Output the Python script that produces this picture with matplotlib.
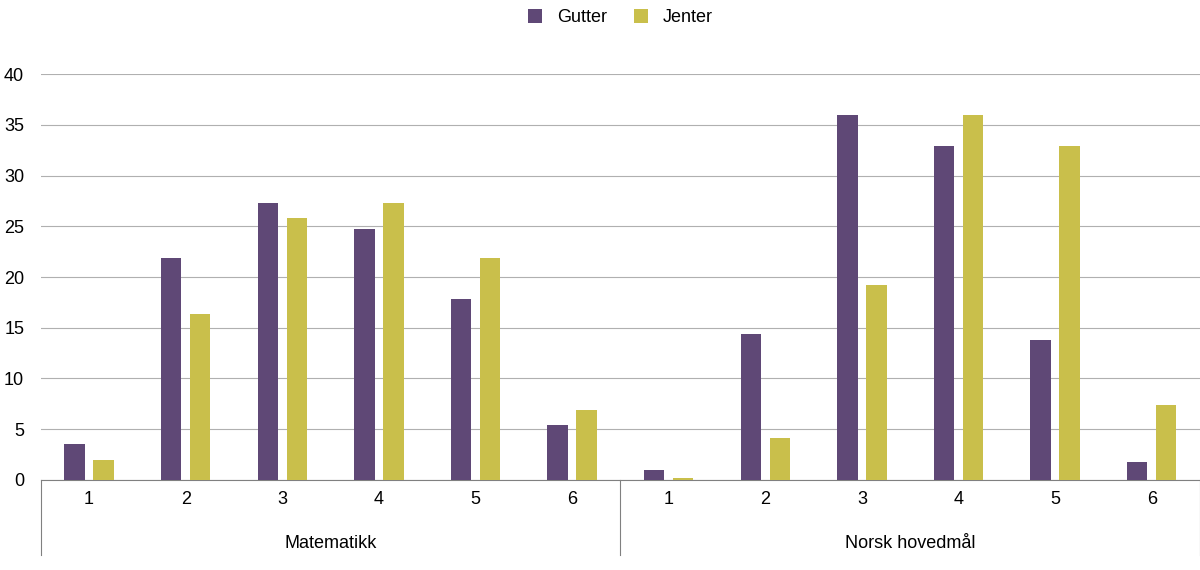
import matplotlib
matplotlib.use("Agg")
import matplotlib.pyplot as plt
import numpy as np

plt.rcParams["font.family"] = "Liberation Sans"

groups = ["Matematikk", "Norsk hovedmål"]
grades = ["1", "2", "3", "4", "5", "6"]
gutter_mat = [3.5, 21.9, 27.3, 24.7, 17.8, 5.4]
jenter_mat = [2.0, 16.4, 25.8, 27.3, 21.9, 6.9]
gutter_nor = [1.0, 14.4, 36.0, 32.9, 13.8, 1.8]
jenter_nor = [0.2, 4.1, 19.2, 36.0, 32.9, 7.4]

gutter = gutter_mat + gutter_nor
jenter = jenter_mat + jenter_nor
labels = grades + grades

fig = plt.figure(figsize=(12, 5.7), dpi=100)
ax = fig.add_axes([0.034, 0.158, 0.966, 0.712])
x = np.arange(len(gutter))
w = 0.21
ax.bar(x - 0.15, gutter, w, color="#5f4876", label="Gutter", zorder=3)
ax.bar(x + 0.15, jenter, w, color="#c9bf4b", label="Jenter", zorder=3)
ax.set_xlim(-0.5, len(gutter) - 0.5)
ax.set_ylim(0, 40)
ax.set_yticks(range(0, 41, 5))
ax.yaxis.grid(True, color="#b0b0b0", linewidth=0.8, zorder=0)
for s in ["top", "right", "left"]:
    ax.spines[s].set_visible(False)
ax.spines["bottom"].set_color("#808080")
ax.tick_params(axis="y", length=0, labelsize=13, pad=12)
ax.tick_params(axis="x", length=0, labelsize=13, pad=8)
ax.set_xticks(x)
ax.set_xticklabels(labels)
for xv in [-0.5, 5.5, 11.5]:
    ax.plot([xv, xv], [0, -7.4], color="#808080", lw=0.8, clip_on=False)
for i, g in enumerate(groups):
    ax.text(2.5 + 6 * i, -6.3, g, ha="center", va="center", fontsize=13)
ax.legend(loc="upper center", bbox_to_anchor=(0.5, 1.2), ncol=2, frameon=False,
          fontsize=13, handlelength=0.8, handleheight=0.8, columnspacing=1.5)
fig.savefig("out.png")
